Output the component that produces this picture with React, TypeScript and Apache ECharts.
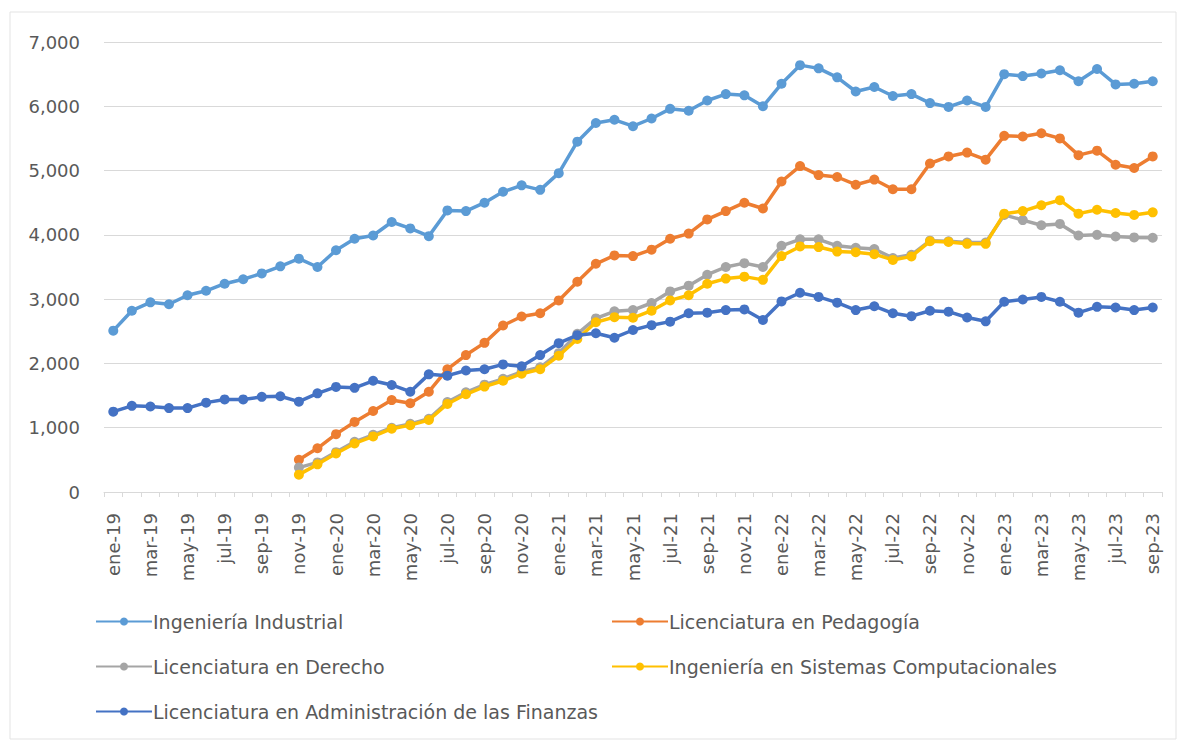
import React, { useEffect, useRef } from "react";
import * as echarts from "echarts";

const months = ["ene", "feb", "mar", "abr", "may", "jun", "jul", "ago", "sep", "oct", "nov", "dic"];
const categories: string[] = [];
for (let y = 19; y <= 23; y++) {
  for (let m = 0; m < 12; m++) {
    if (y === 23 && m > 8) break;
    categories.push(`${months[m]}-${y}`);
  }
}

const seriesNames = [
  "Ingeniería Industrial",
  "Licenciatura en Pedagogía",
  "Licenciatura en Derecho",
  "Ingeniería en Sistemas Computacionales",
  "Licenciatura en Administración de las Finanzas",
];

const colors = ["#5B9BD5", "#ED7D31", "#A5A5A5", "#FFC000", "#4472C4"];

const N = null;
const industrial = [
  2510, 2820, 2950, 2920, 3060, 3130, 3240, 3310, 3400, 3510, 3630, 3500,
  3760, 3940, 3990, 4200, 4100, 3980, 4380, 4370, 4500, 4670, 4770, 4700,
  4960, 5450, 5740, 5790, 5690, 5810, 5960, 5930, 6090, 6190, 6170, 6000,
  6350, 6640, 6590, 6450, 6230, 6300, 6160, 6190, 6050, 5990, 6090, 5990,
  6500, 6470, 6510, 6560, 6390, 6580, 6340, 6350, 6390,
];
const pedagogia = [
  N, N, N, N, N, N, N, N, N, N, 500, 680,
  900, 1090, 1260, 1430, 1380, 1560, 1910, 2130, 2320, 2590, 2730, 2780,
  2980, 3270, 3550, 3680, 3670, 3770, 3940, 4020, 4240, 4370, 4500, 4410,
  4830, 5070, 4930, 4900, 4780, 4860, 4710, 4710, 5110, 5220, 5280, 5170,
  5540, 5530, 5580, 5500, 5240, 5310, 5090, 5040, 5220,
];
const derecho = [
  N, N, N, N, N, N, N, N, N, N, 380, 460,
  620, 780, 890, 1000, 1060, 1140, 1400, 1550, 1670, 1760, 1870, 1940,
  2160, 2460, 2700, 2810, 2830, 2940, 3120, 3210, 3380, 3500, 3560, 3500,
  3830, 3930, 3930, 3830, 3800, 3780, 3640, 3690, 3910, 3900, 3880, 3880,
  4310, 4230, 4150, 4170, 3990, 4000, 3975, 3960, 3955,
];
const sistemas = [
  N, N, N, N, N, N, N, N, N, N, 270, 430,
  600, 755, 865, 985, 1040, 1120, 1370, 1520, 1640, 1730, 1840, 1910,
  2120, 2380, 2640, 2720, 2710, 2820, 2980, 3060, 3240, 3320, 3350, 3300,
  3670, 3820, 3810, 3740, 3730, 3700, 3610, 3665, 3900, 3890, 3860, 3860,
  4330, 4370, 4460, 4540, 4330, 4390, 4340, 4310, 4350,
];
const finanzas = [
  1250, 1340, 1330, 1305, 1305, 1390, 1440, 1440, 1480, 1490, 1405, 1535,
  1635, 1620, 1730, 1665, 1560, 1830, 1810, 1890, 1910, 1985, 1955, 2130,
  2315, 2440, 2470, 2400, 2520, 2595, 2650, 2780, 2790, 2830, 2840, 2675,
  2965, 3100, 3035, 2945, 2830, 2890, 2780, 2735, 2820, 2805, 2715, 2655,
  2960, 2995, 3035, 2960, 2790, 2880, 2870, 2830, 2870,
];

const seriesData = [industrial, pedagogia, derecho, sistemas, finanzas];
const legendPos = [
  { left: 90, top: 607 },
  { left: 606, top: 607 },
  { left: 90, top: 652 },
  { left: 606, top: 652 },
  { left: 90, top: 697 },
];

const FONT = "'DejaVu Sans', 'Open Sans', sans-serif";
const TEXT_COLOR = "#595959";

export default function App() {
  const ref = useRef<HTMLDivElement>(null);
  useEffect(() => {
    if (!ref.current) return;
    const chart = echarts.init(ref.current, undefined, { renderer: "svg" });
    chart.setOption({
      animation: false,
      backgroundColor: "#ffffff",
      textStyle: { fontFamily: FONT },
      graphic: [
        {
          type: "rect",
          shape: { x: 10, y: 12, width: 1166, height: 727 },
          style: { fill: "none", stroke: "#e3e3e3", lineWidth: 1 },
          silent: true,
        },
      ],
      legend: seriesNames.map((name, i) => ({
        data: [name],
        left: legendPos[i].left,
        top: legendPos[i].top,
        itemWidth: 56,
        itemHeight: 10,
        itemGap: 0,
        textStyle: { color: TEXT_COLOR, fontSize: 19, fontFamily: FONT, padding: [0, 0, 0, -4] },
        selectedMode: false,
      })),
      grid: { left: 104, right: 16, top: 42, bottom: 250, containLabel: false },
      xAxis: {
        type: "category",
        data: categories,
        boundaryGap: true,
        axisLine: { lineStyle: { color: "#d9d9d9", width: 1 } },
        axisTick: { show: true, interval: 0, length: 5, lineStyle: { color: "#d9d9d9" } },
        axisLabel: {
          interval: 1,
          rotate: 90,
          color: TEXT_COLOR,
          fontSize: 18,
          fontFamily: FONT,
          margin: 21,
        },
        splitLine: { show: false },
      },
      yAxis: {
        type: "value",
        min: 0,
        max: 7000,
        interval: 1000,
        axisLine: { show: false },
        axisTick: { show: false },
        axisLabel: {
          color: TEXT_COLOR,
          fontSize: 18,
          fontFamily: FONT,
          margin: 24,
          formatter: (v: number) => v.toLocaleString("en-US"),
        },
        splitLine: { lineStyle: { color: "#d9d9d9", width: 1 } },
      },
      series: seriesNames.map((name, i) => ({
        name,
        type: "line",
        data: seriesData[i],
        color: colors[i],
        symbol: "circle",
        symbolSize: 10,
        showSymbol: true,
        lineStyle: { width: 3.5, color: colors[i] },
        itemStyle: { color: colors[i] },
        connectNulls: false,
        z: 2 + i,
      })),
    });
    return () => chart.dispose();
  }, []);
  return (
    <div
      ref={ref}
      style={{ position: "fixed", left: 0, top: 0, width: 1178, height: 742 }}
    />
  );
}
